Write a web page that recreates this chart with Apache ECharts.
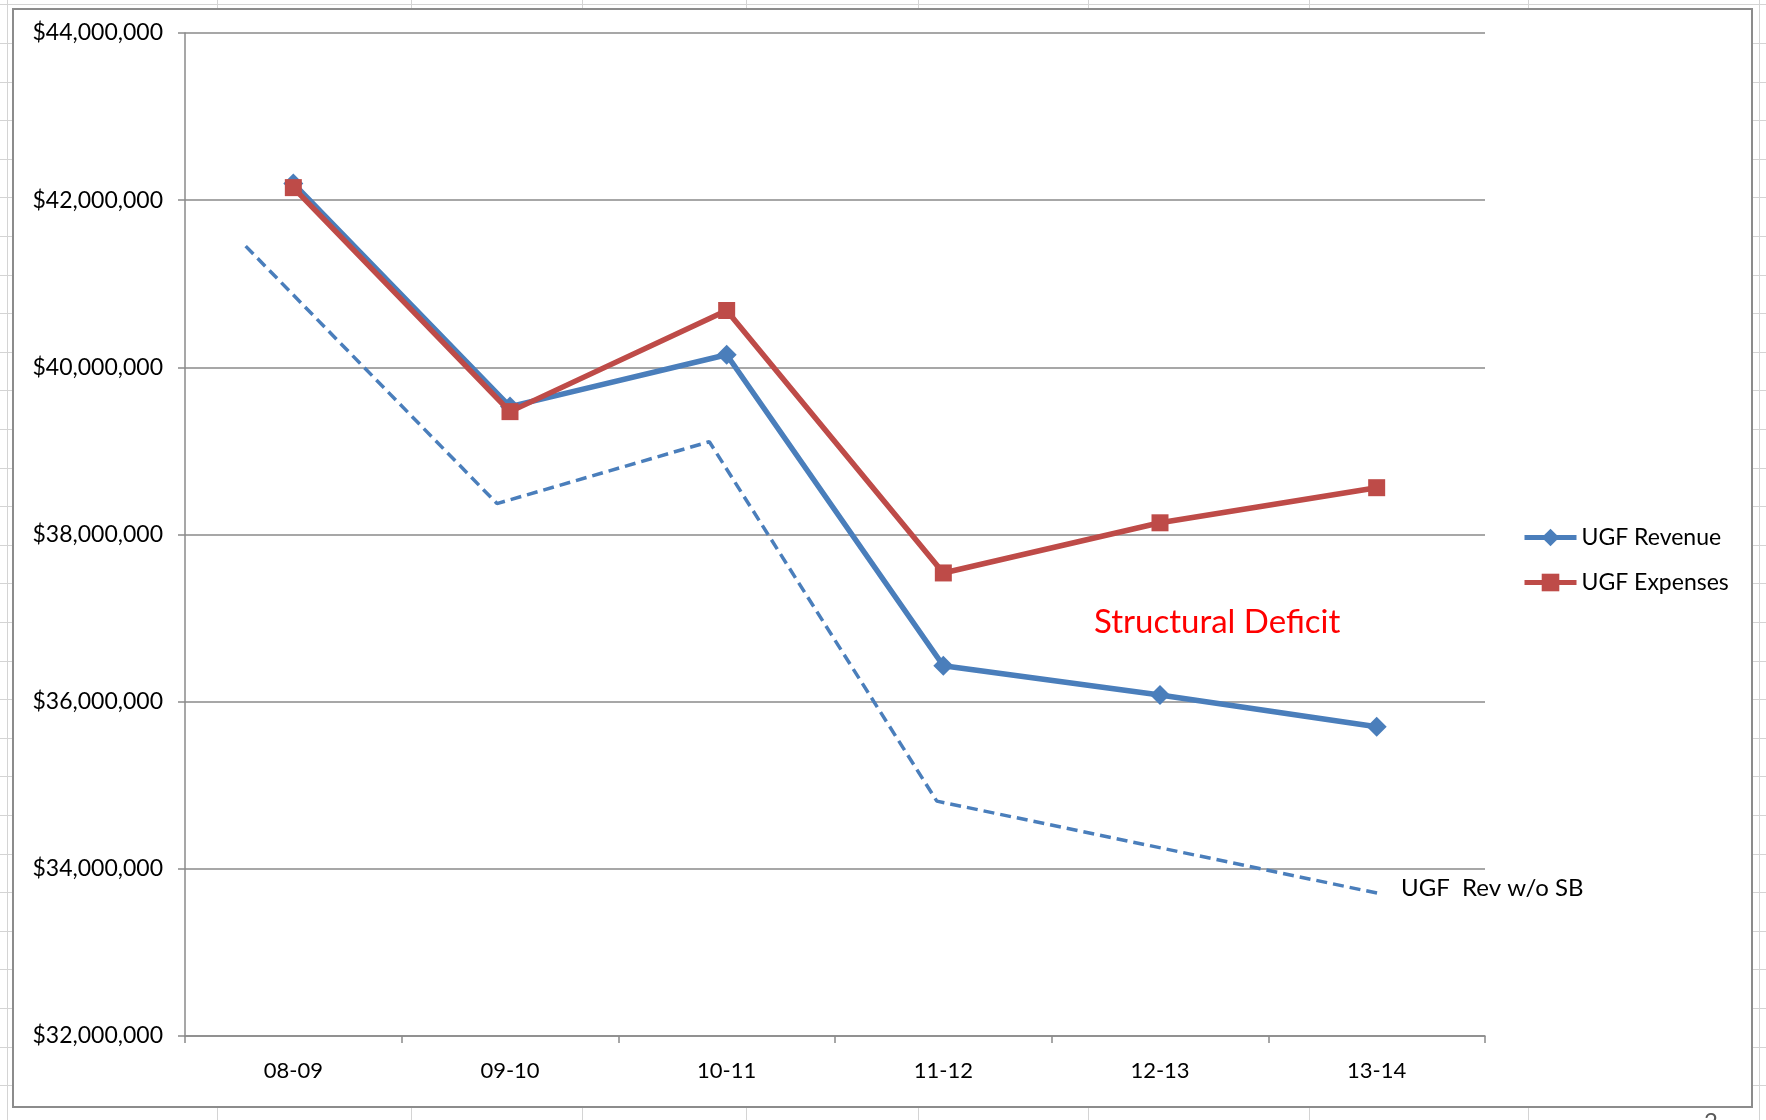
<!DOCTYPE html>
<html>
<head>
<meta charset="utf-8">
<title>UGF Revenue vs Expenses</title>
<script src="https://cdn.jsdelivr.net/npm/echarts@6/dist/echarts.min.js"></script>
<style>
  html, body { margin: 0; padding: 0; background: #fff; overflow: hidden; }
  #sheet { position: absolute; left: 0; top: 0; width: 1766px; height: 1120px; }
  .gl { position: absolute; background: #d4d4d4; }
  #chart { position: absolute; left: 0; top: 0; width: 1766px; height: 1120px; }
</style>
</head>
<body>
<div id="sheet"></div>
<div id="chart"></div>
<script>
// Fiscal years on the category axis
const years = ['08-09', '09-10', '10-11', '11-12', '12-13', '13-14'];

// Unrestricted general fund revenue and expenses (dollars)
const revenue  = [42200000, 39530000, 40150000, 36430000, 36080000, 35700000];
const expenses = [42150000, 39470000, 40680000, 37540000, 38140000, 38560000];

// Revenue without state budget support, sketched as a trend line:
// [position along the year axis (0 = 08-09), dollars]
const revNoSB = [
  [-0.22, 41450000],
  [0.94, 38370000],
  [1.92, 39110000],
  [2.97, 34810000],
  [5.02, 33700000]
];

// Value axis ticks
const yMin = 32000000, yMax = 44000000, yStep = 2000000;

// Spreadsheet cell grid behind the chart object
const sheetCols = [7, 217, 411, 582, 746, 918, 1088, 1309, 1528, 1759];
const sheet = document.getElementById('sheet');
sheetCols.forEach(function (x) {
  const d = document.createElement('div');
  d.className = 'gl';
  d.style.left = x + 'px'; d.style.top = '0px';
  d.style.width = '1px'; d.style.height = '1120px';
  sheet.appendChild(d);
});
for (let y = 4.4; y < 1120; y += 38.6) {
  const d = document.createElement('div');
  d.className = 'gl';
  d.style.left = '0px'; d.style.top = Math.round(y) + 'px';
  d.style.width = '1766px'; d.style.height = '1px';
  sheet.appendChild(d);
}

const FONT = 'Lato, "Open Sans", sans-serif';
const BLUE = '#4a7ebb';
const RED = '#be4b48';
const GRID_GRAY = '#8a8a8a';

const chart = echarts.init(document.getElementById('chart'), null, { renderer: 'canvas' });

chart.setOption({
  backgroundColor: 'transparent',
  animation: false,
  textStyle: { fontFamily: FONT },
  graphic: [
    {
      type: 'rect', z: -10, silent: true,
      shape: { x: 13, y: 9, width: 1739, height: 1098 },
      style: { fill: '#ffffff', stroke: '#8c8c8c', lineWidth: 2 }
    },
    {
      type: 'text', left: 1094, top: 606, z: 10,
      style: { text: 'Structural Deficit', fill: '#ff0000', font: '33px ' + FONT }
    },
    {
      type: 'text', left: 1704, top: 1110, z: 10,
      style: { text: '2', fill: '#595959', font: '24px ' + FONT }
    }
  ],
  grid: { left: 185, top: 33, width: 1300, height: 1003, containLabel: false },
  legend: {
    orient: 'vertical',
    left: 1517,
    top: 521,
    itemWidth: 52,
    itemHeight: 22,
    itemGap: 22,
    data: ['UGF Revenue', 'UGF Expenses'],
    lineStyle: { width: 5 },
    textStyle: { fontFamily: FONT, fontSize: 23, color: '#000' }
  },
  xAxis: [
    {
      type: 'category',
      data: years,
      boundaryGap: true,
      axisLine: { lineStyle: { color: GRID_GRAY, width: 1.5 } },
      axisTick: { show: true, length: 7, alignWithLabel: false, lineStyle: { color: GRID_GRAY, width: 1.5 } },
      axisLabel: { color: '#000', fontFamily: FONT, fontSize: 22, margin: 24 },
      splitLine: { show: false }
    },
    {
      type: 'value',
      min: -0.5, max: 5.5,
      show: false
    }
  ],
  yAxis: {
    type: 'value',
    min: yMin, max: yMax, interval: yStep,
    axisLine: { show: true, onZero: false, lineStyle: { color: GRID_GRAY, width: 1.5 } },
    axisTick: { show: true, length: 7, lineStyle: { color: GRID_GRAY, width: 1.5 } },
    axisLabel: {
      color: '#000', fontFamily: FONT, fontSize: 23, margin: 22,
      formatter: function (v) { return '$' + v.toLocaleString('en-US'); }
    },
    splitLine: { show: true, lineStyle: { color: GRID_GRAY, width: 1.5 } }
  },
  series: [
    {
      name: 'UGF Rev w/o SB',
      type: 'line',
      xAxisIndex: 1,
      data: revNoSB,
      symbol: 'none',
      lineStyle: { color: BLUE, width: 3.5, type: [11, 6] },
      endLabel: {
        show: true,
        formatter: 'UGF  Rev w/o SB',
        distance: 20,
        offset: [0, -6],
        color: '#000',
        fontFamily: FONT,
        fontSize: 24
      },
      z: 1
    },
    {
      name: 'UGF Revenue',
      type: 'line',
      data: revenue,
      symbol: 'diamond',
      symbolSize: 20,
      itemStyle: { color: BLUE },
      lineStyle: { color: BLUE, width: 5.5 },
      z: 2
    },
    {
      name: 'UGF Expenses',
      type: 'line',
      data: expenses,
      symbol: 'rect',
      symbolSize: 17,
      itemStyle: { color: RED },
      lineStyle: { color: RED, width: 5.5 },
      z: 3
    }
  ]
});
</script>
</body>
</html>
